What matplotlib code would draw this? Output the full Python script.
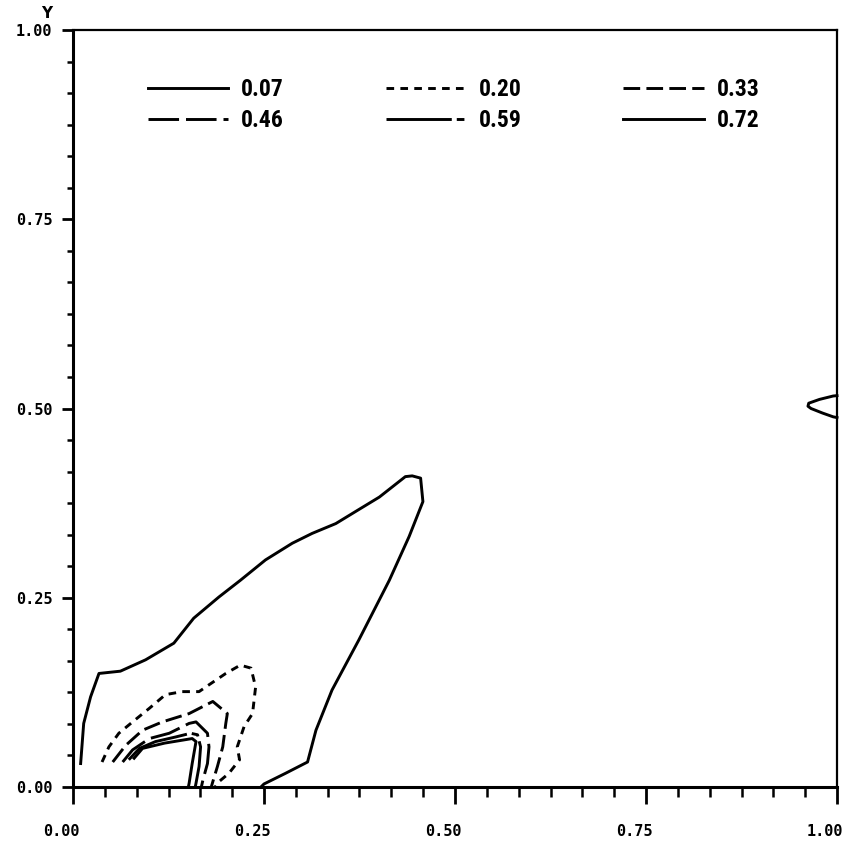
import matplotlib
matplotlib.use("Agg")
import matplotlib.pyplot as plt
from matplotlib.ticker import MultipleLocator
from matplotlib.font_manager import FontProperties
from matplotlib.transforms import ScaledTranslation

plt.rcParams['lines.scale_dashes'] = False

# ---- contour levels ----
levels = ["0.07", "0.20", "0.33", "0.46", "0.59", "0.72"]

# level 0.07 (outer solid contour)
lvl_007_x = [0.010, 0.014, 0.023, 0.034, 0.062, 0.095, 0.132, 0.158, 0.191, 0.219,
             0.252, 0.287, 0.313, 0.344, 0.370, 0.401, 0.435, 0.444, 0.455, 0.458,
             0.440, 0.414, 0.374, 0.339, 0.318, 0.307, 0.278, 0.250, 0.246]
lvl_007_y = [0.031, 0.084, 0.119, 0.150, 0.153, 0.168, 0.190, 0.223, 0.251, 0.273,
             0.300, 0.322, 0.335, 0.348, 0.364, 0.383, 0.410, 0.411, 0.408, 0.377,
             0.331, 0.273, 0.194, 0.128, 0.075, 0.033, 0.018, 0.004, 0.000]
# level 0.07 small loop at right boundary
lvl_007b_x = [1.000, 0.995, 0.977, 0.963, 0.962, 0.966, 0.981, 0.995, 1.000]
lvl_007b_y = [0.517, 0.5165, 0.512, 0.507, 0.503, 0.500, 0.494, 0.489, 0.488]

# level 0.20
lvl_020_x = [0.038, 0.047, 0.060, 0.078, 0.100, 0.121, 0.143, 0.165, 0.178, 0.200,
             0.219, 0.233, 0.239, 0.235, 0.224, 0.215, 0.218, 0.204, 0.191, 0.186]
lvl_020_y = [0.033, 0.053, 0.071, 0.086, 0.104, 0.122, 0.126, 0.126, 0.135, 0.150,
             0.161, 0.157, 0.132, 0.097, 0.080, 0.053, 0.036, 0.018, 0.007, 0.000]

# level 0.33
lvl_033_x = [0.052, 0.069, 0.091, 0.117, 0.152, 0.183, 0.202, 0.200, 0.196, 0.189, 0.183, 0.181]
lvl_033_y = [0.033, 0.055, 0.075, 0.086, 0.097, 0.113, 0.097, 0.084, 0.053, 0.027, 0.007, 0.000]

# level 0.46
lvl_046_x = [0.065, 0.078, 0.100, 0.126, 0.152, 0.161, 0.176, 0.178, 0.176, 0.170, 0.168]
lvl_046_y = [0.033, 0.049, 0.064, 0.071, 0.084, 0.086, 0.071, 0.053, 0.031, 0.009, 0.000]

# level 0.59
lvl_059_x = [0.073, 0.087, 0.108, 0.134, 0.154, 0.163, 0.167, 0.165, 0.161, 0.160]
lvl_059_y = [0.036, 0.051, 0.060, 0.066, 0.071, 0.069, 0.053, 0.027, 0.005, 0.000]

# level 0.72
lvl_072_x = [0.080, 0.091, 0.120, 0.156, 0.161, 0.156, 0.152, 0.151]
lvl_072_y = [0.038, 0.051, 0.058, 0.064, 0.060, 0.031, 0.005, 0.000]

tick_vals = [0.0, 0.25, 0.5, 0.75, 1.0]
tick_labels = ["0.00", "0.25", "0.50", "0.75", "1.00"]

# ---- styles ----
styles = {
    "0.07": dict(linestyle='-'),
    "0.20": dict(dashes=(5.5, 4.5)),
    "0.33": dict(dashes=(12, 4.5)),
    "0.46": dict(dashes=(22, 5)),
    "0.59": dict(dashes=(47, 3.6, 5.5, 3.6)),
    "0.72": dict(linestyle='-'),
}
LW = 2.1

fig = plt.figure(figsize=(8.61, 8.44), dpi=100)
ax = fig.add_axes([73/861, 57/844, 764/861, 757/844])
ax.set_xlim(0, 1)
ax.set_ylim(0, 1)

data = {
    "0.07": (lvl_007_x, lvl_007_y),
    "0.20": (lvl_020_x, lvl_020_y),
    "0.33": (lvl_033_x, lvl_033_y),
    "0.46": (lvl_046_x, lvl_046_y),
    "0.59": (lvl_059_x, lvl_059_y),
    "0.72": (lvl_072_x, lvl_072_y),
}
handles = {}
for lv in levels:
    x, y = data[lv]
    ln, = ax.plot(x, y, color='black', lw=LW, label=lv, clip_on=False,
                  solid_joinstyle='round', dash_capstyle='butt', **styles[lv])
    handles[lv] = ln
ax.plot(lvl_007b_x, lvl_007b_y, color='black', lw=LW, solid_joinstyle='round', clip_on=False)

# legend: column-major order for 3 columns x 2 rows
order = ["0.07", "0.46", "0.20", "0.59", "0.33", "0.72"]
leg_font = FontProperties(family=['Liberation Sans Narrow', 'Roboto Condensed',
                                  'Open Sans Condensed', 'DejaVu Sans Condensed',
                                  'Liberation Sans'],
                          weight='bold', size=17)
leg = ax.legend([handles[k] for k in order], order, ncol=3, frameon=False,
                loc='upper left', bbox_to_anchor=(75/764, 0.9366),
                prop=leg_font, handlelength=3.4, handletextpad=0.55,
                columnspacing=4.3, labelspacing=0.36, borderpad=0, borderaxespad=0)

# ---- axes styling ----
for s in ['left', 'bottom']:
    ax.spines[s].set_linewidth(2.2)
for s in ['top', 'right']:
    ax.spines[s].set_linewidth(1.6)

ax.set_xticks(tick_vals)
ax.set_xticklabels(tick_labels)
ax.set_yticks(tick_vals)
ax.set_yticklabels(tick_labels)
ax.xaxis.set_minor_locator(MultipleLocator(1/24))
ax.yaxis.set_minor_locator(MultipleLocator(1/24))

ax.tick_params(axis='x', which='major', direction='out', length=12, width=2, pad=15)
ax.tick_params(axis='x', which='minor', direction='out', length=7, width=1.8)
ax.tick_params(axis='y', which='major', direction='out', length=8, width=2, pad=7)
ax.tick_params(axis='y', which='minor', direction='out', length=4, width=1.8)
for lab in ax.get_xticklabels() + ax.get_yticklabels():
    lab.set_fontfamily('DejaVu Sans Mono')
    lab.set_fontweight('bold')
    lab.set_fontsize(11)
off = ScaledTranslation(-12/100, 0, fig.dpi_scale_trans)
for lab in ax.get_xticklabels():
    lab.set_transform(lab.get_transform() + off)

fig.text(47/861, 1 - 13/844, "Y", ha='center', va='center',
         fontsize=11, fontweight='bold', family='DejaVu Sans')

fig.savefig("out.png", dpi=100)
